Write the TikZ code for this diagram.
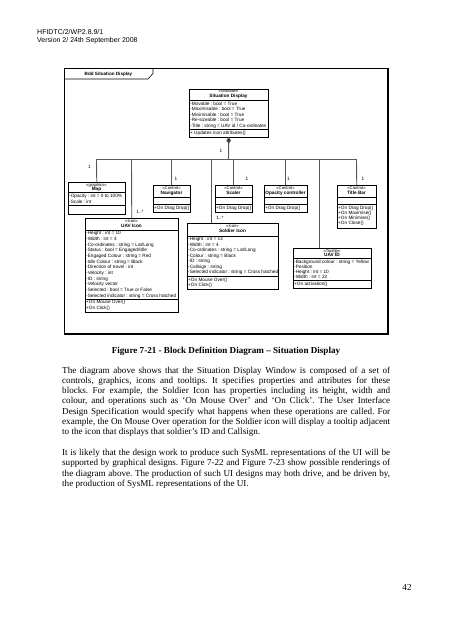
\documentclass[tikz,border=0pt]{standalone}
\usepackage{fontspec}
\setmainfont{Liberation Serif}
\setsansfont{Liberation Sans}
\usetikzlibrary{arrows.meta}
\newcommand\boxlines[5]{%
  \foreach \itm [count=\i] in {#5}{\node[attr] (#1\i) at (#2, {#3+(\i-1)*#4}) {\itm};}}
\frenchspacing
\begin{document}
\begin{tikzpicture}[x=1pt,y=-1pt,
  boxs/.style={draw=black, line width=0.5pt, fill=white, inner sep=0pt, anchor=north west},
  sepl/.style={draw=black, line width=0.5pt},
  conn/.style={draw=black!65, line width=0.9pt},
  stereo/.style={font=\sffamily\fontsize{4.2}{5}\selectfont, inner sep=0pt, text height=3pt, text depth=0.9pt},
  bname/.style={font=\sffamily\bfseries\fontsize{4.7}{5.5}\selectfont, inner sep=0pt, text height=3.4pt, text depth=1pt},
  attr/.style={font=\sffamily\fontsize{4.7}{5.5}\selectfont, inner sep=0pt, anchor=west, text height=3.4pt, text depth=1pt},
  mult/.style={font=\sffamily\fontsize{4.7}{5.5}\selectfont, inner sep=0pt},
  para/.style={font=\fontsize{9.1}{10.3}\selectfont, inner sep=0pt, anchor=base west},
  hdr/.style={font=\sffamily\fontsize{7}{8}\selectfont, inner sep=0pt, anchor=base west}]
\useasboundingbox[fill=white] (0,0) rectangle (452,640);

% page header
\node[hdr] (h1) at (37,34.3) {HFIDTC/2/WP2.8.9/1};
\node[hdr] (h2) at (37,42.5) {Version 2/ 24th September 2008};

% diagram frame
\draw[line width=0.8pt] (64,68) rectangle (388,334);
\draw[line width=1.5pt] (64,334) -- (388,334) -- (388,68);
\draw[line width=0.6pt] (64,79) -- (148,79) -- (153,73.5) -- (153,68);
\node[bname, font=\sffamily\bfseries\fontsize{4.6}{5.5}\selectfont] (tab) at (108.5,73.8) {Bdd Situation Display};

% Situation Display
\node[boxs, minimum width=79pt, minimum height=48pt] (sit) at (189,88.5) {};
\draw[sepl] (189,100.7) -- (268,100.7);
\draw[sepl] (189,129) -- (268,129);
\node[stereo] (sitst) at (228.5,91.8) {«Window»};
\node[bname] (sitnm) at (228.5,96.4) {Situation Display};
\boxlines{sita}{190}{103.9}{5.5}{{-Movable : bool = True},{-Maximisable : bool = True},{-Minimisable : bool = True},{-Re-sizeable : bool = True},{-Title : string = UAV id / Co-ordinates}}
\node[attr] (sito1) at (190,132.8) {+ Updates Icon attributes()};

% Map
\node[boxs, minimum width=57pt, minimum height=32pt] (map) at (68,182) {};
\draw[sepl] (68,192.5) -- (125,192.5);
\draw[sepl] (68,205.5) -- (125,205.5);
\node[stereo] (mapst) at (96.5,185.2) {«graphics»};
\node[bname] (mapnm) at (96.5,189.4) {Map};
\boxlines{mapa}{69}{196.6}{5.3}{{-Opacity : int = 0 to 100\%},{-Scale : int}}

% Navigator
\node[boxs, minimum width=37pt, minimum height=27pt] (nav) at (153,185) {};
\draw[sepl] (153,197.3) -- (190,197.3);
\draw[sepl] (153,204) -- (190,204);
\node[stereo] (navst) at (171.5,188.2) {«Control»};
\node[bname] (navnm) at (171.5,193) {Navigator};
\node[attr] (navo1) at (154,208.1) {+On Drag Drop()};

% Scaler
\node[boxs, minimum width=37pt, minimum height=27pt] (sca) at (215,185) {};
\draw[sepl] (215,197.3) -- (252,197.3);
\draw[sepl] (215,204) -- (252,204);
\node[stereo] (scast) at (233.5,188.2) {«Control»};
\node[bname] (scanm) at (233.5,193) {Scaler};
\node[attr] (scao1) at (216,208.1) {+On Drag Drop()};

% Opacity controller
\node[boxs, minimum width=43pt, minimum height=27pt] (opc) at (264,185) {};
\draw[sepl] (264,197.3) -- (307,197.3);
\draw[sepl] (264,204) -- (307,204);
\node[stereo] (opcst) at (285.5,188.2) {«Control»};
\node[bname] (opcnm) at (285.5,193) {Opacity controller};
\node[attr] (opco1) at (265,208.1) {+On Drag Drop()};

% Title Bar
\node[boxs, minimum width=39pt, minimum height=42.5pt] (tb) at (337,185) {};
\draw[sepl] (337,197.3) -- (376,197.3);
\draw[sepl] (337,204) -- (376,204);
\node[stereo] (tbst) at (356.5,188.2) {«Control»};
\node[bname] (tbnm) at (356.5,193) {Title Bar};
\boxlines{tbo}{338}{207.9}{5.1}{{+On Drag Drop()},{+On Maximise()},{+On Minimise()},{+On Close()}}

% UAV Icon
\node[boxs, minimum width=93pt, minimum height=93.5pt] (uav) at (85,218) {};
\draw[sepl] (85,230.5) -- (178,230.5);
\draw[sepl] (85,299) -- (178,299);
\node[stereo] (uavst) at (131.5,221.5) {«Icon»};
\node[bname] (uavnm) at (131.5,226.2) {UAV Icon};
\boxlines{uava}{86}{233.4}{5.7}{{-Height : int = 10},{-Width : int = 4},{-Co-ordinates : string = Lat/Long},{-Status : bool = Engaged/Idle},{-Engaged Colour : string = Red},{-Idle Colour : string = Black},{-Direction of travel : int},{-Velocity : int},{-ID : string},{-Velocity vector},{-Selected : bool = True or False},{-Selected indicator : string = Cross hatched}}
\boxlines{uavo}{86}{302.6}{5.2}{{+On Mouse Over()},{+On Click()}}

% Soldier Icon
\node[boxs, minimum width=91pt, minimum height=66pt] (sol) at (187,223) {};
\draw[sepl] (187,236) -- (278,236);
\draw[sepl] (187,276.5) -- (278,276.5);
\node[stereo] (solst) at (232.5,226.7) {«Icon»};
\node[bname] (solnm) at (232.5,231.6) {Soldier Icon};
\boxlines{sola}{188}{239.3}{5.5}{{-Height : int = 13},{-Width : int = 4},{-Co-ordinates : string = Lat/Long},{-Colour : string = Black},{-ID : string},{-Callsign : string},{-Selected indicator : string = Cross hatched}}
\boxlines{solo}{188}{280.1}{5}{{+On Mouse Over()},{+On Click()}}

% UAV ID
\node[boxs, minimum width=78pt, minimum height=40pt] (uid) at (293,248) {};
\draw[sepl] (293,258.7) -- (371,258.7);
\draw[sepl] (293,280.3) -- (371,280.3);
\node[stereo] (uidst) at (332,251.2) {«Tooltip»};
\node[bname] (uidnm) at (332,255.4) {UAV ID};
\boxlines{uida}{294}{262}{5.1}{{-Background colour : string = Yellow},{-Position},{-Height : int = 10},{-Width : int = 22}}
\node[attr] (uido1) at (294,283.9) {+On activation()};

% connectors
\coordinate (busC) at (228.5,159);
\coordinate (busL) at (96.5,159);
\coordinate (busR) at (356.5,159);
\coordinate (jUav) at (131.5,159);
\coordinate (jSol) at (211,159);
\coordinate (jUid) at (319,159);
\draw[conn, {Diamond[fill=black!80,length=7pt,width=4.6pt]}-] (sit.south) -- (busC);
\draw[conn] (busL) -- (busR);
\draw[conn] (busL) -- (map.north);
\draw[conn] (nav.north |- busL) -- (nav.north);
\draw[conn] (sca.north |- busL) -- (sca.north);
\draw[conn] (opc.north |- busL) -- (opc.north);
\draw[conn] (busR) -- (tb.north);
\draw[conn] (jUav) -- (uav.north);
\draw[conn] (jSol) -- (jSol |- sol.north);
\draw[conn] (jUid) -- (jUid |- uid.north);

% multiplicities
\node[mult] (m0) at (221,151) {1};
\node[mult] (m1) at (89.5,167.3) {1};
\node[mult] (m2) at (176,179.3) {1};
\node[mult] (m3) at (247,179.3) {1};
\node[mult] (m4) at (288.5,179.3) {1};
\node[mult] (m5) at (363,179.3) {1};
\node[mult] (m6) at (140,212) {1..*};
\node[mult] (m7) at (220,218.3) {1..*};

% caption and text
\node[font=\bfseries\fontsize{9.1}{10.3}\selectfont, inner sep=0pt, anchor=base] (cap) at (226,353.5) {Figure 7-21 - Block Definition Diagram – Situation Display};
\node[para] (p1) at (62,373) {\hbox to 328pt{The diagram above shows that the Situation Display Window is composed of a set of}};
\node[para] (p2) at (62,383.3) {\hbox to 328pt{controls, graphics, icons and tooltips. It specifies properties and attributes for these}};
\node[para] (p3) at (62,393.6) {\hbox to 328pt{blocks. For example, the Soldier Icon has properties including its height, width and}};
\node[para] (p4) at (62,403.9) {\hbox to 328pt{colour, and operations such as ‘On Mouse Over’ and ‘On Click’. The User Interface}};
\node[para] (p5) at (62,414.2) {\hbox to 328pt{Design Specification would specify what happens when these operations are called. For}};
\node[para] (p6) at (62,424.5) {\hbox to 328pt{example, the On Mouse Over operation for the Soldier icon will display a tooltip adjacent}};
\node[para] (p7) at (62,434.8) {to the icon that displays that soldier’s ID and Callsign.};
\node[para] (q1) at (62,455.4) {\hbox to 328pt{It is likely that the design work to produce such SysML representations of the UI will be}};
\node[para] (q2) at (62,465.7) {\hbox to 328pt{supported by graphical designs. Figure 7-22 and Figure 7-23 show possible renderings of}};
\node[para] (q3) at (62,476) {\hbox to 328pt{the diagram above. The production of such UI designs may both drive, and be driven by,}};
\node[para] (q4) at (62,486.3) {the production of SysML representations of the UI.};
\node[font=\fontsize{9.1}{10.3}\selectfont, inner sep=0pt, anchor=base] (pg) at (407,590) {42};
\end{tikzpicture}
\end{document}
